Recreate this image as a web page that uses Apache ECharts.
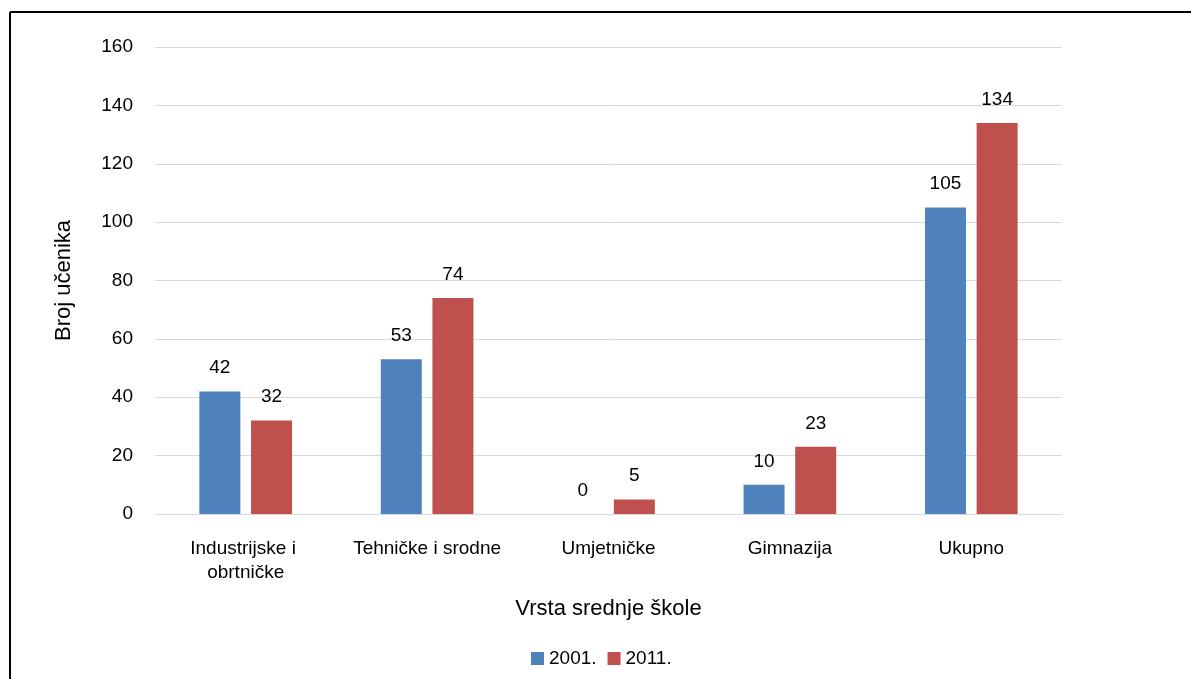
<!DOCTYPE html>
<html>
<head>
<meta charset="utf-8">
<script src="https://cdn.jsdelivr.net/npm/echarts@6/dist/echarts.min.js"></script>
<style>
html,body{margin:0;padding:0;background:#fff;}
#chart{width:1191px;height:679px;}
</style>
</head>
<body>
<div id="chart"></div>
<script>
const categories = ['Industrijske i obrtničke', 'Tehničke i srodne', 'Umjetničke', 'Gimnazija', 'Ukupno'];
const series2001 = [42, 53, 0, 10, 105];
const series2011 = [32, 74, 5, 23, 134];
const seriesNames = ['2001.', '2011.'];
const yAxisTitle = 'Broj učenika';
const xAxisTitle = 'Vrsta srednje škole';

const FONT = "'Liberation Sans', Arial, sans-serif";
const chart = echarts.init(document.getElementById('chart'), null, {renderer: 'canvas'});
const labelStyle = {show: true, position: 'top', distance: 14, color: '#000', fontSize: 19, fontFamily: FONT};
chart.setOption({
  animation: false,
  backgroundColor: '#fff',
  textStyle: {fontFamily: FONT},
  graphic: [
    {type: 'line', shape: {x1: 10, y1: 12, x2: 1191, y2: 12}, style: {stroke: '#000', lineWidth: 2}, silent: true},
    {type: 'line', shape: {x1: 10, y1: 12, x2: 10, y2: 679}, style: {stroke: '#000', lineWidth: 2}, silent: true}
  ],
  grid: {left: 155, right: 129, top: 47, bottom: 165},
  legend: {
    data: seriesNames,
    left: 526, top: 644,
    itemWidth: 13, itemHeight: 13, itemGap: 11,
    icon: 'rect',
    textStyle: {fontSize: 19, color: '#000', fontFamily: FONT, padding: [0, 0, 0, 0]}
  },
  xAxis: {
    type: 'category',
    data: categories,
    name: xAxisTitle,
    nameLocation: 'middle',
    nameGap: 84,
    nameTextStyle: {fontSize: 22, color: '#000', fontFamily: FONT},
    axisLine: {lineStyle: {color: '#D9D9D9', width: 1}},
    axisTick: {show: false},
    axisLabel: {interval: 0, margin: 23, fontSize: 19, color: '#000', fontFamily: FONT, lineHeight: 24, width: 160, overflow: 'break'}
  },
  yAxis: {
    type: 'value',
    min: 0, max: 160, interval: 20,
    name: yAxisTitle,
    nameLocation: 'middle',
    nameGap: 80,
    nameTextStyle: {fontSize: 22, color: '#000', fontFamily: FONT},
    axisLine: {show: false},
    axisTick: {show: false},
    axisLabel: {margin: 22, fontSize: 19, color: '#000', fontFamily: FONT},
    splitLine: {lineStyle: {color: '#D9D9D9', width: 1}}
  },
  series: [
    {name: seriesNames[0], type: 'bar', data: series2001, barWidth: 41, barGap: '26%', itemStyle: {color: '#4F81BD'}, label: labelStyle},
    {name: seriesNames[1], type: 'bar', data: series2011, barWidth: 41, itemStyle: {color: '#C0504D'}, label: labelStyle}
  ]
});
</script>
</body>
</html>
